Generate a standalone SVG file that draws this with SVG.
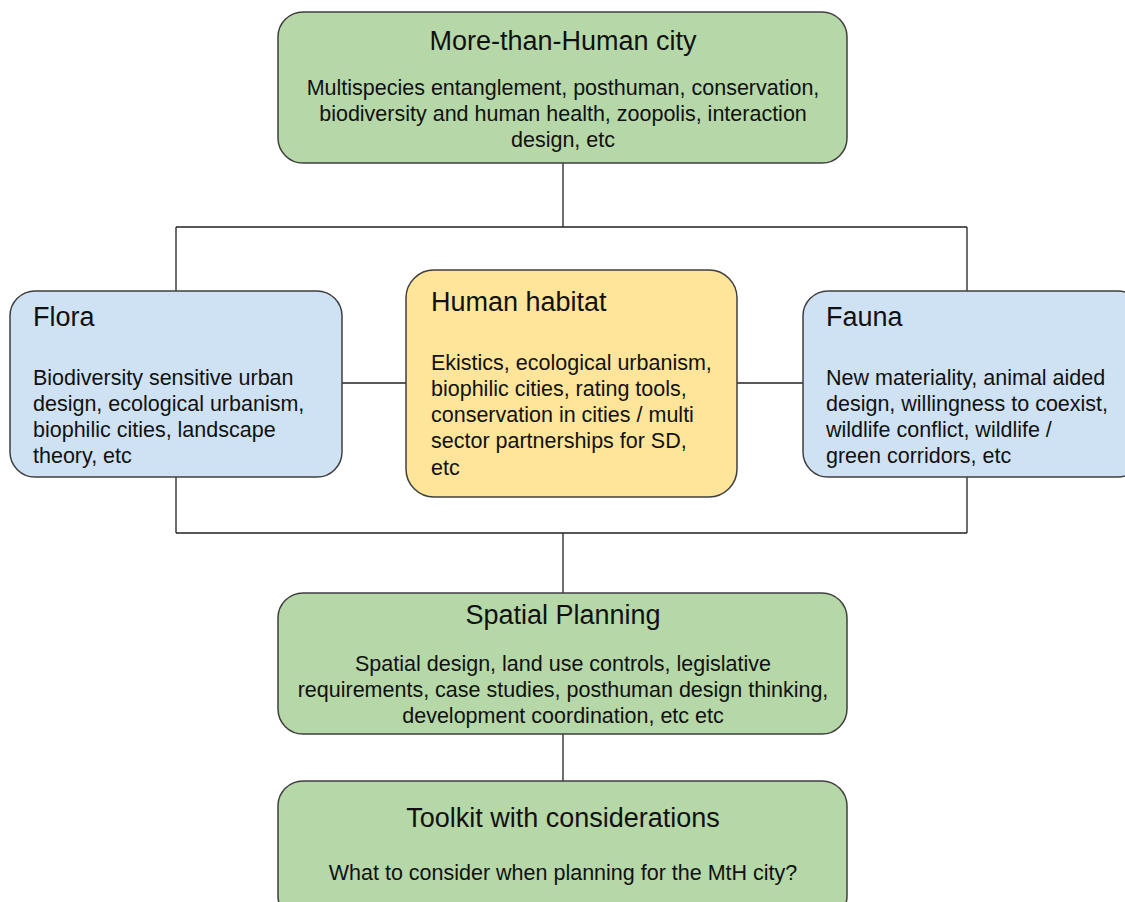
<svg xmlns="http://www.w3.org/2000/svg" width="1125" height="902" viewBox="0 0 1125 902">
<style>
.box{stroke:#3f3f3f;stroke-width:1.5}
.g{fill:#b6d7a8}.b{fill:#cfe2f3}.y{fill:#ffe599}
.t{font-family:"Liberation Sans",Arial,sans-serif;font-size:27px;fill:#111}
.s{font-family:"Liberation Sans",Arial,sans-serif;font-size:21.5px;fill:#111}
.c{text-anchor:middle}
#connectors path{fill:none;stroke:#222;stroke-width:1.3}
</style>
<rect width="1125" height="902" fill="#fff"/>
<g id="connectors">
<path d="M563 163V227M176 227H967M176 227V291M967 227V291"/>
<path d="M176 477V533M967 477V533M176 533H967M563 533V593"/>
<path d="M563 734V781"/>
<path d="M342 383H406M737 383H803"/>
</g>
<g id="mth">
<rect class="box g" x="278" y="12" width="569" height="151" rx="25"/>
<text class="t c" x="563" y="50">More-than-Human city</text>
<text class="s c" x="563" y="95">Multispecies entanglement, posthuman, conservation,</text>
<text class="s c" x="563" y="121">biodiversity and human health, zoopolis, interaction</text>
<text class="s c" x="563" y="147">design, etc</text>
</g>
<g id="flora">
<rect class="box b" x="10" y="291" width="332" height="186" rx="25"/>
<text class="t" x="33" y="326">Flora</text>
<text class="s" x="33" y="385">Biodiversity sensitive urban</text>
<text class="s" x="33" y="411">design, ecological urbanism,</text>
<text class="s" x="33" y="437">biophilic cities, landscape</text>
<text class="s" x="33" y="463">theory, etc</text>
</g>
<g id="human">
<rect class="box y" x="406" y="270" width="331" height="227" rx="28"/>
<text class="t" x="431" y="311">Human habitat</text>
<text class="s" x="431" y="370">Ekistics, ecological urbanism,</text>
<text class="s" x="431" y="396">biophilic cities, rating tools,</text>
<text class="s" x="431" y="422">conservation in cities / multi</text>
<text class="s" x="431" y="448">sector partnerships for SD,</text>
<text class="s" x="431" y="475">etc</text>
</g>
<g id="fauna">
<rect class="box b" x="803" y="291" width="340" height="186" rx="25"/>
<text class="t" x="826" y="326">Fauna</text>
<text class="s" x="826" y="385">New materiality, animal aided</text>
<text class="s" x="826" y="411">design, willingness to coexist,</text>
<text class="s" x="826" y="437">wildlife conflict, wildlife /</text>
<text class="s" x="826" y="463">green corridors, etc</text>
</g>
<g id="spatial">
<rect class="box g" x="278" y="593" width="569" height="141" rx="25"/>
<text class="t c" x="563" y="624">Spatial Planning</text>
<text class="s c" x="563" y="671">Spatial design, land use controls, legislative</text>
<text class="s c" x="563" y="697">requirements, case studies, posthuman design thinking,</text>
<text class="s c" x="563" y="723">development coordination, etc etc</text>
</g>
<g id="toolkit">
<rect class="box g" x="278" y="781" width="569" height="140" rx="25"/>
<text class="t c" x="563" y="827">Toolkit with considerations</text>
<text class="s c" x="563" y="880">What to consider when planning for the MtH city?</text>
</g>
</svg>
